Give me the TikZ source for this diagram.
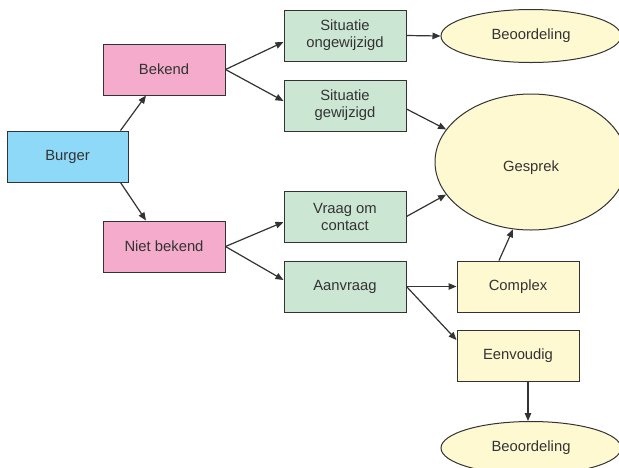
\documentclass[tikz,border=0pt]{standalone}
\usepackage{fontspec}
\setmainfont{Liberation Sans}
\usetikzlibrary{arrows.meta,shapes.geometric}
\definecolor{cblue}{HTML}{8ED8F8}
\definecolor{cpink}{HTML}{F4ABCC}
\definecolor{cgreen}{HTML}{CCE6D4}
\definecolor{cyellow}{HTML}{FFF9D2}
\definecolor{cline}{HTML}{333333}
\definecolor{ctext}{HTML}{333333}
\begin{document}
\begin{tikzpicture}[x=1pt,y=-1pt,
  box/.style={draw=cline, line width=1pt, minimum width=122pt, minimum height=51pt, inner sep=0pt,
    align=center, text=ctext, font=\fontsize{14.8}{17}\selectfont},
  ell/.style={ellipse, draw=cline, line width=1pt, fill=cyellow, inner sep=0pt, text=ctext,
    font=\fontsize{14.8}{17}\selectfont},
  arr/.style={draw=cline, line width=1.2pt, -{Triangle[length=8pt,width=6.5pt]}}]
\clip (0,0) rectangle (619,467);
\fill[white] (0,0) rectangle (619,467);

\node[box, fill=cblue, minimum width=121pt] (bu) at (67.5,156.5) {Burger};
\node[box, fill=cpink] (bk) at (164,69.5) {Bekend};
\node[box, fill=cpink] (nb) at (164,246.5) {Niet bekend};
\node[box, fill=cgreen] (so) at (345,35.5) {Situatie\\ongewijzigd};
\node[box, fill=cgreen] (sg) at (345,105.5) {Situatie\\gewijzigd};
\node[box, fill=cgreen] (vr) at (345,216.5) {Vraag om\\contact};
\node[box, fill=cgreen] (aa) at (345,286.5) {Aanvraag};
\node[box, fill=cyellow] (cx) at (518,286.5) {Complex};
\node[box, fill=cyellow] (ee) at (518,355.5) {Eenvoudig};
\node[ell, minimum width=180pt, minimum height=53pt] (b1) at (531,36) {Beoordeling};
\node[ell, minimum width=192pt, minimum height=136pt] (ge) at (531,162) {\raisebox{-6pt}[\height][\depth]{Gesprek}};
\node[ell, minimum width=180pt, minimum height=53pt] (b2) at (531,448) {Beoordeling};

\draw[arr] ([xshift=-8pt]bu.north east) -- ([xshift=-18pt]bk.south);
\draw[arr] ([xshift=-8pt]bu.south east) -- ([xshift=-18pt]nb.north);
\draw[arr] (bk.east) -- ([yshift=-6.5pt]so.west);
\draw[arr] (bk.east) -- ([yshift=4.5pt]sg.west);
\draw[arr] (nb.east) -- ([yshift=-5.5pt]vr.west);
\draw[arr] (nb.east) -- ([yshift=6.5pt]aa.west);
\draw[arr] (so.east) -- (b1.west);
\draw[arr] ([yshift=-3.5pt]sg.east) -- (ge.159);
\draw[arr] (vr.east) -- (ge.201);
\draw[arr] (aa.east) -- (cx.west);
\draw[arr] (aa.east) -- ([yshift=15.5pt]ee.west);
\draw[arr] ([xshift=-19pt]cx.north) -- (ge.255);
\draw[arr] ([xshift=10pt]ee.south) -- ([xshift=-3pt]b2.north);
\end{tikzpicture}
\end{document}
